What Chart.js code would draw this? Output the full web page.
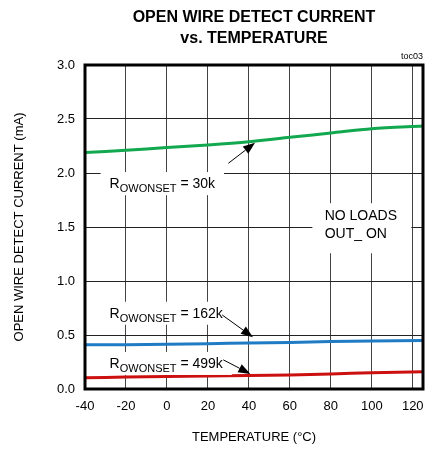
<!DOCTYPE html>
<html>
<head>
<meta charset="utf-8">
<script src="https://cdn.jsdelivr.net/npm/chart.js@4/dist/chart.umd.min.js"></script>
<style>
  html, body { margin: 0; padding: 0; background: #fff; }
  #wrap { width: 438px; height: 449px; }
</style>
</head>
<body>
<div id="wrap"><canvas id="c" width="438" height="449"></canvas></div>
<script>
// values
var temps = [-40, -20, 0, 20, 40, 60, 80, 100, 125];
var current30k = [2.19, 2.21, 2.235, 2.26, 2.29, 2.33, 2.37, 2.41, 2.435];
var current162k = [0.41, 0.41, 0.415, 0.42, 0.425, 0.43, 0.44, 0.445, 0.45];
var current499k = [0.105, 0.11, 0.115, 0.12, 0.125, 0.13, 0.14, 0.15, 0.16];
var xTicks = [-40, -20, 0, 20, 40, 60, 80, 100, 120];
var yTicks = [0, 0.5, 1.0, 1.5, 2.0, 2.5, 3.0];

var FONT = "'Liberation Sans', Arial, sans-serif";

function pts(ys) {
  return temps.map(function (t, i) { return { x: t, y: ys[i] }; });
}

// labels with subscript, white box behind, and arrow to the curve
var notes = [
  { sub: 'OWONSET', tail: ' = 30k', x: -28, y: 1.86, from: [30, 2.09], to: [43, 2.28] },
  { sub: 'OWONSET', tail: ' = 162k', x: -28, y: 0.66, from: [27, 0.685], to: [42, 0.48] },
  { sub: 'OWONSET', tail: ' = 499k', x: -28, y: 0.195, from: [27.5, 0.27], to: [40.7, 0.14] }
];

var decor = {
  id: 'decor',
  afterDatasetsDraw: function (chart) {
    var ctx = chart.ctx, a = chart.chartArea;
    var xs = chart.scales.x, ys = chart.scales.y;
    ctx.save();

    // title
    ctx.fillStyle = '#000';
    ctx.textAlign = 'center';
    ctx.textBaseline = 'middle';
    ctx.font = 'bold 16px ' + FONT;
    var cx = (a.left + a.right) / 2;
    ctx.fillText('OPEN WIRE DETECT CURRENT', cx, 18);
    ctx.fillText('vs. TEMPERATURE', cx, 39);
    ctx.font = '9px ' + FONT;
    ctx.textAlign = 'right';
    ctx.fillText('toc03', a.right, 57);

    // notes
    notes.forEach(function (n) {
      var px = xs.getPixelForValue(n.x), py = ys.getPixelForValue(n.y);
      ctx.font = '14px ' + FONT;
      var wR = ctx.measureText('R').width;
      var wT = ctx.measureText(n.tail).width;
      ctx.font = '11px ' + FONT;
      var wS = ctx.measureText(n.sub).width;
      var w = wR + wS + wT;
      ctx.fillStyle = '#fff';
      ctx.fillRect(px - 9, py - 16, w + 18, 23);
      ctx.fillStyle = '#000';
      ctx.textAlign = 'left';
      ctx.textBaseline = 'alphabetic';
      ctx.font = '14px ' + FONT;
      ctx.fillText('R', px, py);
      ctx.font = '11px ' + FONT;
      ctx.fillText(n.sub, px + wR, py + 4);
      ctx.font = '14px ' + FONT;
      ctx.fillText(n.tail, px + wR + wS, py);
      arrow(ctx, xs.getPixelForValue(n.from[0]), ys.getPixelForValue(n.from[1]),
        xs.getPixelForValue(n.to[0]), ys.getPixelForValue(n.to[1]));
    });

    // conditions box
    var bx = xs.getPixelForValue(71), by = ys.getPixelForValue(1.72);
    ctx.fillStyle = '#fff';
    ctx.fillRect(bx, by, 99, 50);
    ctx.fillStyle = '#000';
    ctx.font = '14px ' + FONT;
    ctx.textBaseline = 'middle';
    ctx.textAlign = 'left';
    ctx.fillText('NO LOADS', xs.getPixelForValue(77), ys.getPixelForValue(1.6));
    ctx.fillText('OUT_ ON', xs.getPixelForValue(77), ys.getPixelForValue(1.43));

    // heavy frame
    ctx.strokeStyle = '#000';
    ctx.lineWidth = 3;
    ctx.strokeRect(a.left, a.top, a.right - a.left, a.bottom - a.top);
    ctx.restore();
  }
};

function arrow(ctx, x1, y1, x2, y2) {
  var ang = Math.atan2(y2 - y1, x2 - x1), L = 12, W = 4.5;
  ctx.strokeStyle = '#000';
  ctx.lineWidth = 1;
  ctx.beginPath();
  ctx.moveTo(x1, y1);
  ctx.lineTo(x2 - L * Math.cos(ang), y2 - L * Math.sin(ang));
  ctx.stroke();
  ctx.beginPath();
  ctx.moveTo(x2, y2);
  ctx.lineTo(x2 - L * Math.cos(ang) - W * Math.sin(ang), y2 - L * Math.sin(ang) + W * Math.cos(ang));
  ctx.lineTo(x2 - L * Math.cos(ang) + W * Math.sin(ang), y2 - L * Math.sin(ang) - W * Math.cos(ang));
  ctx.closePath();
  ctx.fillStyle = '#000';
  ctx.fill();
}

new Chart(document.getElementById('c'), {
  type: 'line',
  data: {
    datasets: [
      { data: pts(current30k), borderColor: '#12a84f', borderWidth: 3 },
      { data: pts(current162k), borderColor: '#1f7cc4', borderWidth: 3 },
      { data: pts(current499k), borderColor: '#cc1010', borderWidth: 3 }
    ]
  },
  options: {
    responsive: false,
    animation: false,
    events: [],
    layout: { padding: { top: 65, right: 15, left: 0, bottom: 0 } },
    elements: { point: { radius: 0 }, line: { tension: 0.3 } },
    plugins: { legend: { display: false }, title: { display: false }, tooltip: { enabled: false } },
    scales: {
      x: {
        type: 'linear', min: -40, max: 125,
        afterBuildTicks: function (s) { s.ticks = xTicks.map(function (v) { return { value: v }; }); },
        afterFit: function (s) { s.height = 60; },
        grid: { color: '#444', lineWidth: 1, drawTicks: false },
        border: { display: false },
        ticks: { color: '#000', font: { size: 13, family: FONT }, padding: 10 },
        title: { display: true, text: 'TEMPERATURE (°C)', color: '#000', font: { size: 13, family: FONT }, padding: { top: 14 } }
      },
      y: {
        min: 0, max: 3,
        afterBuildTicks: function (s) { s.ticks = yTicks.map(function (v) { return { value: v }; }); },
        afterFit: function (s) { s.width = 85; },
        grid: { color: '#222', lineWidth: 1, drawTicks: false },
        border: { display: false },
        ticks: { color: '#000', font: { size: 13, family: FONT }, padding: 10,
          callback: function (v) { return v.toFixed(1); } },
        title: { display: true, text: 'OPEN WIRE DETECT CURRENT (mA)', color: '#000', font: { size: 13, family: FONT }, padding: { top: 12, bottom: 0 } }
      }
    }
  },
  plugins: [decor]
});
</script>
</body>
</html>
